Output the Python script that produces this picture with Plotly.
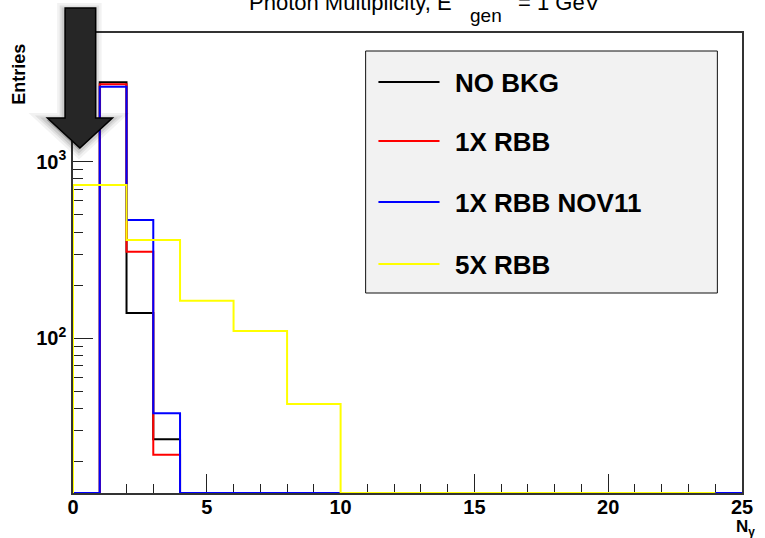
import plotly.graph_objects as go

# ---------------- data ----------------
edges_fine = list(range(0, 26))                      # 25 bins of width 1
no_bkg     = [0, 2818, 139, 26.8] + [0] * 21
rbb_1x     = [0, 2742, 309, 21.9] + [0] * 21
rbb_nov11  = [0, 2660, 468, 37.6] + [0] * 21
edges_wide = list(range(0, 25, 2))                   # 12 bins of width 2
rbb_5x     = [738, 360, 163, 110, 42.5, 0, 0, 0, 0, 0, 0, 0]

series_names  = ["NO BKG", "1X RBB", "1X RBB NOV11", "5X RBB"]
series_colors = ["#000000", "#ff0000", "#0000ff", "#ffff00"]
series_edges  = [edges_fine, edges_fine, edges_fine, edges_wide]
series_vals   = [no_bkg, rbb_1x, rbb_nov11, rbb_5x]

x_ticks = [0, 5, 10, 15, 20, 25]
x_ticktext = ["0", "5", "10", "15", "20", "25"]
y_ticks = [100, 1000]
y_ticktext = ["10<sup>2</sup>", "10<sup>3</sup>"]

y_log_range = [1.124, 3.729]
x_range = [0, 25]

# ---------------- layout helpers ----------------
W, H = 765, 538
ML, MR, MT, MB = 73, 13, 33, 45
PW, PH = W - ML - MR, H - MT - MB
def px(x):  # pixel -> paper x
    return (x - ML) / PW
def py(y):  # pixel -> paper y
    return (H - MB - y) / PH

FONT = "Liberation Sans, Arial, Helvetica, sans-serif"
y_floor = 10 ** y_log_range[0]

fig = go.Figure()
for name, col, ed, vals in zip(series_names, series_colors, series_edges, series_vals):
    n = len(vals)
    xs = [ed[0]] + [ed[i] for i in range(n)] + [ed[n]]
    ys = [y_floor] + [max(v, y_floor) for v in vals] + [y_floor]
    fig.add_trace(go.Scatter(x=xs, y=ys, mode="lines", name=name,
                             line=dict(color=col, width=2, shape="hv"),
                             showlegend=False, hoverinfo="skip"))

axis_common = dict(showline=True, linecolor="#333333", linewidth=1.5, mirror=True,
                   showgrid=False, zeroline=False, ticks="inside", tickcolor="#222222",
                   tickwidth=1, layer="below traces",
                   tickfont=dict(family=FONT, size=20, color="black", weight="bold"))

fig.update_layout(
    width=W, height=H, margin=dict(l=ML, r=MR, t=MT, b=MB),
    paper_bgcolor="white", plot_bgcolor="white", showlegend=False,
    xaxis=dict(range=x_range, tickmode="array", tickvals=x_ticks, ticktext=x_ticktext,
               ticklen=19, minor=dict(dtick=1, ticklen=9, ticks="inside", tickcolor="#222222", tickwidth=1),
               ticklabelstandoff=-5, **axis_common),
    yaxis=dict(type="log", range=y_log_range, tickmode="array", tickvals=y_ticks, ticktext=y_ticktext,
               ticklen=20,
               minor=dict(tickmode="array",
                          tickvals=[m * 10 ** e for e in (1, 2, 3) for m in range(2, 10)],
                          ticklen=10, ticks="inside", tickcolor="#222222", tickwidth=1),
               ticklabelstandoff=1, **axis_common),
)

ann = []
# title pieces
ann.append(dict(text="Photon Multiplicity, E", x=px(460), y=py(3), xref="paper", yref="paper",
                xanchor="right", yanchor="middle", showarrow=False,
                font=dict(family=FONT, size=22, color="black")))
ann.append(dict(text="gen", x=px(474), y=py(15), xref="paper", yref="paper",
                xanchor="left", yanchor="middle", showarrow=False,
                font=dict(family=FONT, size=19, color="black")))
ann.append(dict(text="= 1 GeV", x=px(523), y=py(3), xref="paper", yref="paper",
                xanchor="left", yanchor="middle", showarrow=False,
                font=dict(family=FONT, size=22, color="black")))
# axis titles
ann.append(dict(text="Entries", x=px(18), y=py(74), xref="paper", yref="paper",
                xanchor="center", yanchor="middle", textangle=-90, showarrow=False,
                font=dict(family=FONT, size=18, color="black", weight="bold")))
ann.append(dict(text="N<sub>γ</sub>", x=px(767), y=py(528), xref="paper", yref="paper",
                xanchor="right", yanchor="middle", showarrow=False,
                font=dict(family=FONT, size=17, color="black", weight="bold")))

shapes = []
# legend box
shapes.append(dict(type="rect", xref="paper", yref="paper", x0=px(370), x1=px(727),
                   y0=py(293), y1=py(51), fillcolor="#f2f2f2",
                   line=dict(color="#111111", width=1)))
leg_y = [82, 141, 202, 264]
for name, col, yy in zip(series_names, series_colors, leg_y):
    shapes.append(dict(type="line", xref="paper", yref="paper", x0=px(383), x1=px(445),
                       y0=py(yy), y1=py(yy), line=dict(color=col, width=2)))
    ann.append(dict(text=name, x=px(459), y=py(yy + 1), xref="paper", yref="paper",
                    xanchor="left", yanchor="middle", showarrow=False,
                    font=dict(family=FONT, size=26, color="black", weight="bold")))

# decorative arrow overlay (top-left)
arrow_pts = [(65, 8), (96, 8), (96, 118), (113, 118), (80, 148), (47, 118), (65, 118)]
def path(pts, dx=0, dy=0):
    return "M " + " L ".join(f"{px(x + dx):.5f},{py(y + dy):.5f}" for x, y in pts) + " Z"
for w, op in [(14, 0.05), (9, 0.07), (5, 0.09)]:
    shapes.append(dict(type="path", xref="paper", yref="paper", path=path(arrow_pts, -1, 2),
                       fillcolor=f"rgba(0,0,0,{op})", line=dict(color=f"rgba(0,0,0,{op})", width=w),
                       layer="above"))
shapes.append(dict(type="path", xref="paper", yref="paper", path=path(arrow_pts),
                   fillcolor="#262626", line=dict(color="#000000", width=1.5), layer="above"))

fig.update_layout(annotations=ann, shapes=shapes)
fig.write_html("out.html", config={"displayModeBar": False},
               post_script="document.body.style.margin='0';")
